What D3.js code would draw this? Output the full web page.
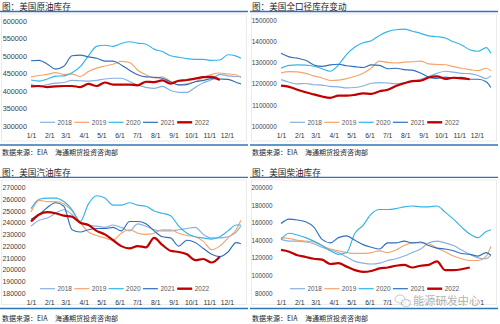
<!DOCTYPE html>
<html>
<head>
<meta charset="utf-8">
<script src="https://cdn.jsdelivr.net/npm/d3@7"></script>
<style>
  body { margin: 0; background: #fff; }
  svg { display: block; font-family: "Liberation Sans", Arial, sans-serif; }
  .cjk { font-family: "Noto Sans CJK SC", "Noto Sans", sans-serif; }
</style>
</head>
<body>
<svg id="chart" width="500" height="324"></svg>
<script>
// Sample dates, as day of the year (roughly every two weeks)
const days = [0, 14, 28, 42, 56, 70, 84, 98, 112, 126, 140, 154, 168, 182, 196, 210, 224, 238, 252, 266, 280, 294, 308, 322, 336, 350, 358];
const years = ["2018", "2019", "2020", "2021", "2022"];
const monthDays = [0, 31, 59, 90, 120, 151, 181, 212, 243, 273, 304, 334];
const monthLabels = ["1/1", "2/1", "3/1", "4/1", "5/1", "6/1", "7/1", "8/1", "9/1", "10/1", "11/1", "12/1"];
const yearColors = ["#86b0e0", "#f5a46c", "#33b5e8", "#2f6fba", "#c00000"];

// Crude oil stocks
const crudeTicks = [300000, 350000, 400000, 450000, 500000, 550000, 600000];
const crude2018 = [419000, 412000, 418000, 422000, 424000, 430000, 429000, 428000, 430000, 434000, 436000, 436000, 427000, 416000, 410000, 407000, 413000, 401000, 396000, 396000, 410000, 423000, 432000, 447000, 443000, 441000, 441000];
const crude2019 = [440000, 444000, 447000, 452000, 447000, 448000, 441000, 455000, 465000, 471000, 476000, 484000, 481000, 459000, 446000, 437000, 440000, 427000, 417000, 420000, 426000, 438000, 447000, 451000, 448000, 446000, 437000];
const crude2020 = [431000, 428000, 434000, 442000, 443000, 452000, 469000, 500000, 527000, 530000, 527000, 535000, 540000, 536000, 533000, 519000, 512000, 500000, 496000, 492000, 490000, 490000, 487000, 488000, 503000, 499000, 493000];
const crude2021 = [486000, 487000, 476000, 462000, 470000, 500000, 502000, 497000, 493000, 485000, 485000, 474000, 459000, 446000, 440000, 439000, 436000, 426000, 417000, 418000, 426000, 430000, 435000, 434000, 433000, 424000, 420000];
const crude2022 = [413000, 414000, 411000, 413000, 414000, 414000, 411000, 420000, 414000, 424000, 418000, 418000, 418000, 416000, 426000, 425000, 430000, 421000, 429000, 431000, 435000, 439000, 440000, 431000];

// Total petroleum stocks
const totalTicks = [1000000, 1100000, 1200000, 1300000, 1400000, 1500000];
const total2018 = [1220000, 1208000, 1200000, 1202000, 1196000, 1194000, 1188000, 1186000, 1181000, 1183000, 1190000, 1203000, 1206000, 1204000, 1200000, 1205000, 1212000, 1222000, 1235000, 1250000, 1260000, 1256000, 1250000, 1249000, 1240000, 1225000, 1238000];
const total2019 = [1252000, 1258000, 1257000, 1250000, 1238000, 1228000, 1216000, 1218000, 1225000, 1236000, 1250000, 1275000, 1308000, 1302000, 1299000, 1303000, 1305000, 1308000, 1295000, 1292000, 1291000, 1282000, 1274000, 1268000, 1263000, 1274000, 1262000];
const total2020 = [1274000, 1288000, 1290000, 1289000, 1284000, 1272000, 1260000, 1290000, 1340000, 1375000, 1395000, 1405000, 1430000, 1448000, 1457000, 1460000, 1450000, 1440000, 1428000, 1424000, 1418000, 1400000, 1385000, 1362000, 1355000, 1372000, 1345000];
const total2021 = [1345000, 1328000, 1322000, 1312000, 1290000, 1283000, 1290000, 1293000, 1286000, 1282000, 1278000, 1290000, 1288000, 1272000, 1274000, 1268000, 1265000, 1252000, 1232000, 1226000, 1232000, 1228000, 1231000, 1222000, 1222000, 1210000, 1183000];
const total2022 = [1192000, 1186000, 1172000, 1160000, 1150000, 1140000, 1134000, 1144000, 1144000, 1148000, 1155000, 1153000, 1165000, 1172000, 1190000, 1203000, 1213000, 1215000, 1230000, 1236000, 1224000, 1229000, 1226000, 1222000];

// Gasoline stocks
const gasTicks = [180000, 190000, 200000, 210000, 220000, 230000, 240000, 250000, 260000, 270000];
const gas2018 = [237000, 242000, 244000, 248000, 251000, 247000, 240000, 238000, 237000, 236000, 238000, 236000, 233000, 239000, 237000, 234000, 233000, 233000, 234000, 235000, 236000, 230000, 227000, 227000, 228000, 232000, 237000];
const gas2019 = [249000, 259000, 258000, 258000, 256000, 250000, 240000, 232000, 229000, 227000, 225000, 231000, 234000, 231000, 230000, 231000, 234000, 234000, 231000, 229000, 228000, 224000, 217000, 220000, 227000, 234000, 242000];
const gas2020 = [252000, 260000, 261000, 261000, 258000, 251000, 241000, 256000, 263000, 261000, 255000, 255000, 257000, 255000, 254000, 250000, 248000, 246000, 237000, 231000, 228000, 227000, 226000, 228000, 233000, 238000, 238000];
const gas2021 = [243000, 247000, 253000, 257000, 254000, 234000, 232000, 234000, 235000, 235000, 236000, 233000, 241000, 241000, 239000, 233000, 228000, 227000, 220000, 225000, 223000, 218000, 213000, 211000, 215000, 223000, 222000];
const gas2022 = [241000, 247000, 249000, 248000, 246000, 245000, 240000, 238000, 233000, 230000, 225000, 220000, 218000, 220000, 219000, 227000, 221000, 216000, 215000, 213000, 208000, 209000, 206000, 211000];

// Distillate stocks
const distTicks = [80000, 100000, 120000, 140000, 160000, 180000, 200000];
const dist2018 = [141000, 139000, 139000, 138000, 136000, 132000, 129000, 126000, 121000, 116000, 114000, 113000, 114000, 117000, 119000, 122000, 126000, 130000, 137000, 139000, 137000, 134000, 129000, 124000, 120000, 119000, 123000];
const dist2019 = [143000, 142000, 140000, 139000, 138000, 134000, 130000, 128000, 126000, 125000, 125000, 126000, 128000, 126000, 129000, 134000, 137000, 137000, 136000, 131000, 127000, 122000, 119000, 117000, 117000, 122000, 133000];
const dist2020 = [141000, 148000, 146000, 143000, 139000, 134000, 128000, 124000, 126000, 148000, 157000, 170000, 175000, 175000, 176000, 178000, 179000, 178000, 178000, 179000, 172000, 164000, 155000, 147000, 143000, 150000, 152000];
const dist2021 = [159000, 164000, 163000, 161000, 155000, 141000, 137000, 143000, 145000, 140000, 135000, 132000, 130000, 137000, 137000, 139000, 137000, 138000, 134000, 131000, 130000, 128000, 125000, 124000, 122000, 126000, 123000];
const dist2022 = [129000, 127000, 123000, 121000, 119000, 118000, 113000, 114000, 110000, 106000, 104000, 105000, 108000, 109000, 111000, 112000, 109000, 111000, 112000, 116000, 106000, 106000, 107000, 109000];

const panels = [
  { title: "图：美国原油库存", col: 0, row: 0, ticks: crudeTicks, series: [crude2018, crude2019, crude2020, crude2021, crude2022], labelRight: 27, labelSize: 7.3 },
  { title: "图：美国全口径库存变动", col: 1, row: 0, ticks: totalTicks, series: [total2018, total2019, total2020, total2021, total2022], labelRight: 26.7, labelSize: 6.4 },
  { title: "图：美国汽油库存", col: 0, row: 1, ticks: gasTicks, series: [gas2018, gas2019, gas2020, gas2021, gas2022], labelRight: 25.5, labelSize: 6.9 },
  { title: "图：美国柴油库存", col: 1, row: 1, ticks: distTicks, series: [dist2018, dist2019, dist2020, dist2021, dist2022], labelRight: 22.5, labelSize: 6.3 },
];

// Vertical layout of each row of panels
const rows = [
  { title: 10, rule: 11.5, frame: 14, top: 20.7, bottom: 126, legend: 122.3, xLabel: 135.2, foot: 145, source: 154.5 },
  { title: 175.5, rule: 177.3, frame: 180, top: 187.5, bottom: 293, legend: 288.7, xLabel: 302.8, foot: 308.5, source: 321 },
];

const svg = d3.select("#chart");

panels.forEach((panel) => {
  const ox = panel.col * 250;
  const r = rows[panel.row];
  const g = svg.append("g");

  const x = d3.scaleLinear().domain([0, 365]).range([ox + 31, ox + 245]);
  const y = d3.scaleLinear()
    .domain([panel.ticks[0], panel.ticks[panel.ticks.length - 1]])
    .range([r.bottom, r.top]);

  // faint frame around the plot
  g.append("rect")
    .attr("x", ox + 1.5).attr("y", r.frame)
    .attr("width", 245).attr("height", r.foot - r.frame - 4)
    .attr("fill", "none").attr("stroke", "#e6e6e6").attr("stroke-width", 0.8);

  g.append("text")
    .attr("class", "cjk")
    .attr("x", ox + 2).attr("y", r.title)
    .attr("font-size", 8.6).attr("fill", "#262626")
    .text(panel.title);

  g.append("line")
    .attr("x1", ox).attr("x2", ox + 248)
    .attr("y1", r.rule).attr("y2", r.rule)
    .attr("stroke", "#2e75b6").attr("stroke-width", 1.3);

  g.append("line")
    .attr("x1", ox).attr("x2", ox + 248)
    .attr("y1", r.foot).attr("y2", r.foot)
    .attr("stroke", "#2e75b6").attr("stroke-width", 1.3);

  const source = g.append("g").attr("class", "cjk").attr("font-size", 7).attr("fill", "#262626");
  source.append("text").attr("x", ox + 2).attr("y", r.source).text("数据来源：EIA");
  source.append("text").attr("x", ox + 55).attr("y", r.source).text("海通期货投资咨询部");

  const yAxis = g.append("g")
    .attr("transform", `translate(${ox + panel.labelRight},0)`)
    .call(d3.axisLeft(y).tickValues(panel.ticks).tickSize(0).tickPadding(0).tickFormat(d3.format("d")));
  yAxis.select(".domain").remove();
  yAxis.selectAll("text")
    .attr("font-size", panel.labelSize)
    .attr("font-family", "Liberation Sans, Arial, sans-serif")
    .attr("fill", "#404040");

  const xAxis = g.append("g")
    .attr("transform", `translate(0,${r.xLabel})`)
    .call(d3.axisBottom(x).tickValues(monthDays).tickSize(0).tickPadding(0)
      .tickFormat((d, i) => monthLabels[i]));
  xAxis.select(".domain").remove();
  xAxis.selectAll("text")
    .attr("y", 0).attr("dy", "0.35em")
    .attr("font-size", 6.8)
    .attr("font-family", "Liberation Sans, Arial, sans-serif")
    .attr("fill", "#333");

  const line = d3.line()
    .x((d, i) => x(days[i]))
    .y((d) => y(d))
    .curve(d3.curveMonotoneX);

  panel.series.forEach((values, i) => {
    g.append("path")
      .datum(values)
      .attr("d", line)
      .attr("fill", "none")
      .attr("stroke", yearColors[i])
      .attr("stroke-width", i === 4 ? 2.2 : 1.15)
      .attr("stroke-linejoin", "round");
  });

  // legend along the bottom of the plot
  const legend = g.append("g").attr("transform", `translate(${ox + 40},${r.legend})`);
  years.forEach((year, i) => {
    const item = legend.append("g").attr("transform", `translate(${i * 34.3},0)`);
    item.append("line")
      .attr("x1", 0).attr("x2", 15)
      .attr("stroke", yearColors[i])
      .attr("stroke-width", i === 4 ? 2.4 : 1.2);
    item.append("text")
      .attr("x", 17.5).attr("dy", "0.35em")
      .attr("font-size", 6.5).attr("fill", "#595959")
      .text(year);
  });
});

// account watermark over the lower right corner
const mark = svg.append("g").attr("opacity", 0.85);
mark.append("ellipse").attr("cx", 400).attr("cy", 299).attr("rx", 5).attr("ry", 4)
  .attr("fill", "#fff").attr("stroke", "#b0b0b0").attr("stroke-width", 0.8);
mark.append("ellipse").attr("cx", 406).attr("cy", 303).attr("rx", 4.5).attr("ry", 3.5)
  .attr("fill", "#fff").attr("stroke", "#b0b0b0").attr("stroke-width", 0.8);
mark.append("text")
  .attr("class", "cjk")
  .attr("x", 413).attr("y", 304.5)
  .attr("font-size", 11.2)
  .attr("fill", "#a8a8a8")
  .attr("stroke", "#fff").attr("stroke-width", 2.5)
  .attr("paint-order", "stroke")
  .text("能源研发中心");
</script>
</body>
</html>
